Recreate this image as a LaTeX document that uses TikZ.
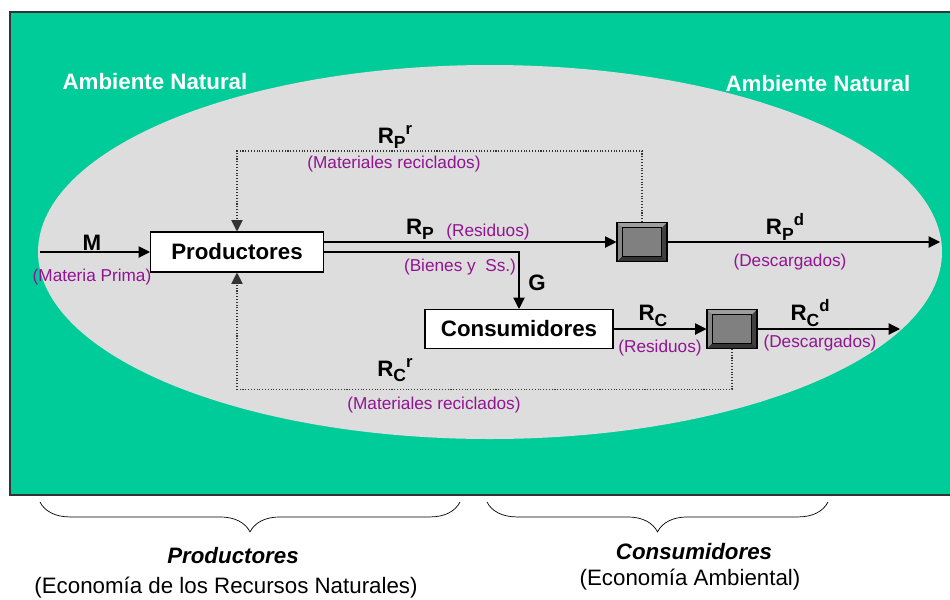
\documentclass[tikz,border=0pt]{standalone}
\usepackage{fontspec}
\setmainfont{Liberation Sans}
\usetikzlibrary{arrows.meta,decorations.pathreplacing}

\definecolor{verde}{RGB}{0,204,153}
\definecolor{gris}{RGB}{221,221,221}
\definecolor{morado}{RGB}{145,20,145}
\definecolor{cara}{RGB}{128,128,128}
\definecolor{claro}{RGB}{158,158,158}
\definecolor{oscuro}{RGB}{64,64,64}
\newcommand{\grande}{\fontsize{12.7pt}{15pt}\selectfont}
\newcommand{\chica}{\fontsize{9.8pt}{12pt}\selectfont}
\newcommand{\bajo}[1]{\raisebox{-0.45ex}{\fontsize{10pt}{12pt}\selectfont #1}}
\newcommand{\alto}[1]{\raisebox{0.75ex}{\fontsize{9.5pt}{12pt}\selectfont #1}}

\tikzset{
  caja/.style={shape=rectangle,draw=black,fill=white,font=\grande\bfseries,inner sep=0pt,minimum height=0.8cm},
  etiqueta/.style={font=\grande\bfseries,inner sep=0pt},
  nota/.style={font=\chica,text=morado,inner sep=0pt},
  filtro/.style={shape=rectangle,draw=black,fill=cara,minimum width=1cm,minimum height=0.78cm,inner sep=0pt,
    path picture={
      \fill[claro](path picture bounding box.north west) -- (path picture bounding box.north east) -- ([shift={(-3pt,-3pt)}]path picture bounding box.north east) -- ([shift={(3pt,-3pt)}]path picture bounding box.north west) -- cycle;
      \fill[claro!85!black](path picture bounding box.north west) -- (path picture bounding box.south west) -- ([shift={(3pt,3pt)}]path picture bounding box.south west) -- ([shift={(3pt,-3pt)}]path picture bounding box.north west) -- cycle;
      \fill[oscuro](path picture bounding box.north east) -- (path picture bounding box.south east) -- ([shift={(-3pt,3pt)}]path picture bounding box.south east) -- ([shift={(-3pt,-3pt)}]path picture bounding box.north east) -- cycle;
      \fill[oscuro!80!black](path picture bounding box.south west) -- (path picture bounding box.south east) -- ([shift={(-3pt,3pt)}]path picture bounding box.south east) -- ([shift={(3pt,3pt)}]path picture bounding box.south west) -- cycle;
      \draw[black,thin]([shift={(3pt,3pt)}]path picture bounding box.south west) rectangle ([shift={(-3pt,-3pt)}]path picture bounding box.north east);
    }}
}

\begin{document}
\begin{tikzpicture}[x=0.02cm,y=-0.02cm,>={Triangle[length=6.5pt,width=6.5pt]},semithick]
                \useasboundingbox (0,0) rectangle (950,599);
                % fondo: ambiente natural
                \fill[verde](10,12) rectangle (950,495);
                \draw[line width=0.8pt,black!80](950,12) -- (10,12) -- (10,495) -- (950,495);
                \fill[gris](490,252) ellipse [x radius=452,y radius=187];
                \node[font=\grande\bfseries,text=white](amb1)at(155,82){Ambiente Natural};
                \node[font=\grande\bfseries,text=white](amb2)at(818,84){Ambiente Natural};

                \node[caja,minimum width=3.46cm](prod)at(237,252){Productores};
                \node[caja,minimum width=3.76cm,minimum height=0.78cm](cons)at(519,329){Consumidores};
                \node[filtro](fp)at(642,242){};
                \node[filtro](fc)at(732,329){};
                \coordinate(ent)at(40,252);
                \coordinate(salp)at(940,242);
                \coordinate(salc)at(900,329);

                \path[->](ent) edge (prod)
                (prod.east |- fp.west) edge (fp)
                (fp) edge (salp)
                (cons) edge (fc)
                (fc) edge (salc);
                \draw[->](prod.east) -| (cons.north);
                \draw[->,densely dotted,black!80](fp.north) -- ++(0,-71) -| (prod.north);
                \draw[->,densely dotted,black!80](fc.south) -- ++(0,40) -| (prod.south);

                \node[etiqueta](m)at(92,243){M};
                \node[nota](mp)at(92,277){(Materia Prima)};
                \node[etiqueta](rp)at(420,229){R\bajo{P}};
                \node[nota](res1)at(488,232){(Residuos)};
                \node[nota](bys)at(460,267){(Bienes y\ \ Ss.)};
                \node[etiqueta](g)at(537,283){G};
                \node[etiqueta](rpr)at(395,137){R\bajo{P}\alto{r}};
                \node[nota](mr1)at(394,164){(Materiales reciclados)};
                \node[etiqueta](rpd)at(785,227){R\bajo{P}\alto{d}};
                \node[nota](des1)at(790,262){(Descargados)};
                \node[etiqueta](rc)at(653,316){R\bajo{C}};
                \node[nota](res2)at(660,348){(Residuos)};
                \node[etiqueta](rcd)at(810,313){R\bajo{C}\alto{d}};
                \node[nota](des2)at(820,343){(Descargados)};
                \node[etiqueta](rcr)at(395,370){R\bajo{C}\alto{r}};
                \node[nota](mr2)at(434,405){(Materiales reciclados)};

                % llaves de abajo
                \draw[thin,decorate,decoration={brace,mirror,amplitude=17pt}](40,502) -- (460,502);
                \draw[thin,decorate,decoration={brace,mirror,amplitude=17pt}](487,502) -- (828,502);
                \node[font=\grande\bfseries\itshape](pie1)at(233,556){Productores};
                \node[font=\grande](pie2)at(226,588){(Economía de los Recursos Naturales)};
                \node[font=\grande\bfseries\itshape](pie3)at(694,552){Consumidores};
                \node[font=\grande](pie4)at(690,580){(Economía Ambiental)};
            \end{tikzpicture}
\end{document}
